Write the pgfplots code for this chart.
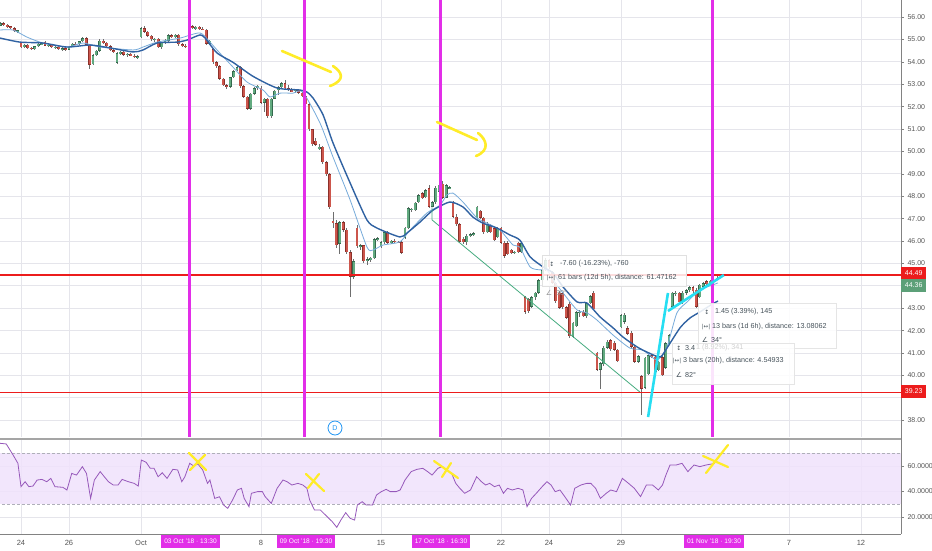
\documentclass[border=0pt]{standalone}
\usepackage{pgfplots}
\pgfplotsset{compat=1.18}
\usepackage{pgfplotstable}
\usepackage{fontspec}
\setmainfont{Liberation Sans}
\newfontfamily\symfont{DejaVu Sans}
\definecolor{gridc}{RGB}{229,229,235}
\definecolor{axc}{RGB}{130,130,130}
\definecolor{sepc}{RGB}{165,165,165}
\definecolor{lblc}{RGB}{85,85,85}
\definecolor{upf}{RGB}{98,170,128}
\definecolor{upb}{RGB}{52,106,78}
\definecolor{dnf}{RGB}{204,86,76}
\definecolor{dnb}{RGB}{140,48,42}
\definecolor{wickc}{RGB}{110,110,110}
\definecolor{maslow}{RGB}{48,98,162}
\definecolor{mafast}{RGB}{118,170,218}
\definecolor{magc}{RGB}{226,46,232}
\definecolor{redl}{RGB}{236,28,28}
\definecolor{greenlbl}{RGB}{92,160,120}
\definecolor{rsic}{RGB}{150,88,186}
\definecolor{bandc}{RGB}{240,226,252}
\definecolor{yel}{RGB}{255,236,40}
\definecolor{cyanl}{RGB}{38,222,242}
\definecolor{teall}{RGB}{70,172,128}
\definecolor{dblue}{RGB}{33,150,243}
\definecolor{anntxt}{RGB}{72,84,92}

\pgfplotstableread{
i o h l c
-6 55.62 55.78 55.58 55.72
-5 55.72 55.76 55.62 55.66
-4 55.66 55.70 55.52 55.58
-3 55.58 55.62 55.46 55.50
-2 55.50 55.54 55.32 55.36
-1 55.36 55.44 55.30 55.40
0 54.85 54.88 54.60 54.65
1 54.65 54.78 54.60 54.75
2 54.75 54.78 54.58 54.62
3 54.62 54.66 54.52 54.58
4 54.58 54.72 54.55 54.70
5 54.70 54.82 54.66 54.80
6 54.80 54.86 54.74 54.82
7 54.90 54.94 54.70 54.72
8 54.72 54.80 54.66 54.76
9 54.76 54.80 54.60 54.64
10 54.64 54.70 54.55 54.66
11 54.66 54.70 54.52 54.56
12 54.56 54.64 54.50 54.60
13 54.60 54.64 54.48 54.52
14 54.55 54.70 54.52 54.68
15 54.68 54.84 54.64 54.80
16 54.80 54.90 54.74 54.78
17 54.78 54.95 54.75 54.92
18 54.92 55.12 54.88 55.06
19 55.06 55.10 54.72 54.76
20 54.76 54.78 53.70 53.88
21 53.90 54.35 53.85 54.30
22 54.30 54.55 54.25 54.50
23 54.50 55.00 54.45 54.95
24 54.95 55.00 54.80 54.84
25 54.84 54.88 54.66 54.70
26 54.70 54.75 54.48 54.52
27 54.52 54.56 54.38 54.42
28 53.96 54.42 53.90 54.38
29 54.38 54.48 54.30 54.44
30 54.44 54.48 54.28 54.32
31 54.32 54.40 54.22 54.36
32 54.36 54.40 54.24 54.28
33 54.28 54.34 54.16 54.22
34 54.22 54.30 54.12 54.24
35 55.10 55.55 55.05 55.50
36 55.50 55.60 55.30 55.34
37 55.34 55.38 55.10 55.16
38 55.16 55.20 54.95 55.00
39 55.00 55.06 54.90 55.02
40 55.02 55.06 54.60 54.66
41 54.66 54.90 54.58 54.86
42 54.86 55.00 54.80 54.94
43 54.94 55.22 54.90 55.18
44 55.18 55.26 55.08 55.12
45 55.12 55.24 55.06 55.20
46 55.20 55.24 54.72 54.78
47 54.78 54.86 54.66 54.72
48 54.72 54.80 54.60 54.68
49 55.45 55.62 55.40 55.58
50 55.58 55.64 55.46 55.50
51 55.50 55.60 55.44 55.56
52 55.56 55.60 55.44 55.48
53 55.48 55.54 55.40 55.44
54 55.44 55.48 54.76 54.80
55 54.80 54.98 54.76 54.94
56 54.55 54.60 53.92 53.98
57 53.98 54.02 53.74 53.80
58 53.80 53.84 53.20 53.24
59 53.24 53.28 52.90 52.96
60 52.96 53.02 52.78 52.88
61 52.88 53.34 52.82 53.30
62 53.30 53.62 53.26 53.58
63 53.62 53.80 53.58 53.76
64 53.76 53.80 52.84 52.90
65 52.90 52.96 52.40 52.44
66 52.44 52.48 51.84 51.90
67 51.90 52.62 51.86 52.58
68 52.58 52.86 52.52 52.82
69 52.82 52.96 52.76 52.92
70 52.84 52.90 52.12 52.18
71 52.18 52.40 51.78 52.36
72 52.36 52.40 51.50 51.56
73 51.56 52.40 51.50 52.36
74 52.36 52.76 52.32 52.72
75 52.72 52.90 52.50 52.86
76 52.86 53.12 52.80 53.04
77 53.04 53.18 52.78 52.82
78 52.82 52.96 52.70 52.74
79 52.74 52.82 52.64 52.70
80 52.70 52.80 52.62 52.76
81 52.76 52.80 52.58 52.62
82 52.62 52.66 52.42 52.46
83 52.46 52.50 52.06 52.10
84 52.10 52.14 50.92 50.98
85 50.98 51.02 50.26 50.32
86 50.48 50.60 50.24 50.30
87 50.14 50.34 50.08 50.20
88 50.20 50.24 49.46 49.52
89 49.52 49.56 48.92 48.98
90 48.98 49.02 47.42 47.50
91 46.90 47.30 46.60 46.80
92 46.80 46.95 45.70 45.82
93 45.88 46.90 45.40 46.84
94 46.84 46.90 46.40 46.50
95 46.50 46.56 45.40 45.50
96 45.50 45.60 43.50 44.40
97 44.40 45.20 44.30 45.10
98 46.60 46.70 45.70 45.76
99 45.76 45.86 45.60 45.80
100 45.80 45.84 45.04 45.10
101 45.10 45.30 44.95 45.18
102 45.18 45.30 45.06 45.24
103 45.24 46.14 45.20 46.08
104 46.08 46.20 45.98 46.12
105 45.76 45.98 45.70 45.94
106 45.94 46.44 45.88 46.38
107 46.38 46.44 45.86 45.92
108 45.92 46.06 45.86 46.02
109 46.02 46.08 45.90 45.96
110 45.96 46.00 45.90 45.94
111 45.94 45.98 45.42 45.48
112 46.14 46.64 46.08 46.58
113 46.58 47.52 46.54 47.46
114 47.40 47.48 47.30 47.44
115 47.38 47.74 47.32 47.70
116 47.74 48.10 47.70 48.04
117 48.14 48.20 47.88 47.92
118 47.96 48.32 47.92 48.26
119 48.36 48.50 47.46 47.54
120 47.54 47.80 47.50 47.72
121 47.72 48.44 47.66 48.38
122 48.20 48.62 48.10 48.50
123 48.56 48.66 47.88 47.94
124 47.94 48.56 47.90 48.48
125 48.36 48.44 48.30 48.38
126 47.76 47.80 47.02 47.08
127 47.08 47.20 46.68 46.74
128 46.74 46.80 45.90 45.96
129 46.10 46.20 45.86 45.94
130 45.94 46.30 45.80 46.24
131 46.24 46.34 46.18 46.30
132 46.30 46.40 46.22 46.34
133 47.02 47.58 46.98 47.52
134 47.34 47.40 47.00 47.04
135 47.04 47.08 46.32 46.38
136 46.38 46.84 46.34 46.78
137 46.72 46.78 46.34 46.40
138 46.56 46.62 45.98 46.04
139 46.18 46.64 46.12 46.58
140 46.58 46.62 45.88 45.92
141 45.92 46.00 45.26 45.34
142 45.90 45.98 45.36 45.42
143 45.60 45.66 45.42 45.46
144 45.46 45.56 45.42 45.52
145 45.92 45.96 45.46 45.50
146 45.50 45.96 45.46 45.90
147 43.48 43.56 42.76 42.84
148 43.40 43.46 42.80 42.86
149 43.06 43.54 43.00 43.48
150 43.48 43.74 43.38 43.70
151 43.70 44.30 43.64 44.24
152 44.24 44.74 44.20 44.70
153 44.70 45.22 44.66 45.14
154 45.14 45.20 44.76 44.82
155 44.62 44.66 44.10 44.14
156 44.14 44.18 43.24 43.30
157 43.70 43.76 42.96 43.02
158 43.66 43.72 42.98 43.04
159 43.04 43.10 42.52 42.58
160 43.20 43.26 41.68 41.74
161 41.72 42.40 41.66 42.34
162 42.20 42.88 42.14 42.82
163 42.82 42.90 42.60 42.84
164 42.84 42.90 42.60 42.64
165 42.64 43.28 42.58 43.22
166 43.22 43.60 43.18 43.54
167 43.68 43.76 42.90 42.96
168 41.00 41.06 40.20 40.26
169 40.26 40.60 39.40 40.54
170 40.50 41.30 40.44 41.24
171 41.24 41.56 41.18 41.50
172 41.56 41.62 41.10 41.16
173 41.46 41.52 41.08 41.14
174 41.14 41.20 40.58 40.64
175 42.16 42.74 42.10 42.68
176 42.40 42.80 42.30 42.70
177 42.10 42.20 41.80 41.86
178 41.90 41.96 41.22 41.28
179 41.28 41.34 40.56 40.62
180 40.62 40.90 40.56 40.86
181 39.96 40.02 38.22 39.40
182 39.44 40.84 39.38 40.78
183 40.06 40.96 40.00 40.90
184 40.90 40.96 40.78 40.82
185 40.82 40.88 40.10 40.16
186 40.24 40.64 40.18 40.60
187 40.80 40.86 39.96 40.02
188 40.34 41.50 40.28 41.44
189 41.40 41.86 41.34 41.80
190 43.06 43.74 43.00 43.68
191 43.62 43.76 43.56 43.70
192 43.68 43.72 43.20 43.26
193 43.26 43.76 43.20 43.70
194 43.70 43.84 43.60 43.80
195 43.80 43.98 43.74 43.94
196 43.94 43.98 43.70 43.76
197 43.82 43.88 43.00 43.06
198 43.50 44.10 43.44 44.04
199 43.96 44.16 43.90 44.12
200 44.20 44.26 44.04 44.08
201 44.08 44.26 44.02 44.22
202 44.22 44.34 44.16 44.28
203 44.30 44.42 44.26 44.36
}\candles

\pgfplotstableread{
i p
-6.1 55.06
-0.3 54.88
6.4 54.84
13.4 54.66
20.1 54.75
26 54.62
32.7 54.44
35.6 54.53
39.7 54.84
45.5 54.88
48.4 54.97
52.2 55.20
53.7 55.06
57.2 54.39
61.8 53.98
67.7 53.35
74.7 52.83
81.4 52.74
83.4 52.65
85.2 52.38
88.1 51.63
91 50.38
96 48.59
100.9 46.94
103.8 46.58
110.5 46.18
112.6 46.36
116.4 46.85
120.2 47.38
125.1 47.74
128.9 47.52
131.8 47.07
134.7 46.80
138.8 46.58
142.6 46.27
145.5 46.04
148.5 45.29
152.3 44.84
155.2 44.57
158.1 43.95
162.2 43.28
165.1 43.23
168.9 42.61
172.7 42.12
175.6 41.71
179.7 41.27
182.6 41.04
186.4 40.82
188.4 41.22
192.2 42.12
195.1 42.56
198 42.83
201.8 43.20
203.3 43.32
}\maslowtab

\pgfplotstableread{
i p
-6.1 55.42
-2.3 55.42
1.8 55.10
6.4 54.84
13.4 54.66
18.1 54.84
23 54.66
32.7 54.53
35.6 54.66
39.7 54.88
46.4 55.06
52.2 55.29
55.1 54.88
58 54.39
61.8 53.77
65.9 53.10
70.6 52.74
72.6 52.43
75.5 52.60
79.3 52.60
82.2 52.65
87.2 51.27
91 49.75
96 47.83
100.9 45.73
102.7 45.60
105.6 45.82
110.5 45.96
113.5 46.49
118.4 47.25
122.2 47.60
124.2 48.05
126 48.14
128.9 47.74
133 47.03
135.9 46.80
139.7 46.49
143.5 45.82
145.5 45.73
148.5 44.84
151.4 44.71
153.4 44.71
155.2 44.26
158.1 43.68
162.2 42.92
165.1 42.79
168 42.47
172.7 41.80
177.6 41.22
181.4 41.13
185.5 40.69
188.4 41.27
191.3 42.79
194.3 43.28
198 43.81
201.8 44.04
203.3 44.13
}\mafasttab

\pgfplotstableread{
i r
-6.1 77.8
-4.3 77.3
-2.3 68.6
-0.9 62.1
0 43.8
1.2 47.7
2.3 43.8
3.5 44.3
4.7 49.0
6.1 49.5
7.5 47.7
8.7 50.3
9.9 43.8
12.2 43.3
13.4 41.2
14.8 54.2
16.2 52.9
17.9 59.5
19.1 54.2
20.3 34.6
21.4 49.0
23.1 55.6
24.3 51.6
25.5 47.7
26.9 45.1
28.3 45.1
29.5 49.5
31.3 47.7
33 46.4
34.2 44.3
35.1 64.7
36.5 62.9
37.7 58.2
38.8 58.2
40 51.6
41.2 54.7
42.6 50.3
44.3 57.4
45.7 56.9
46.9 47.7
47.8 51.6
49.2 62.1
50.4 60.0
51.6 61.6
53 56.9
54.4 46.4
55.1 49.0
56.5 34.6
57.9 35.9
59.1 29.4
60.3 26.8
61.7 33.3
63.1 41.2
64.3 42.5
65.1 34.6
66.5 28.1
67.2 38.6
69 39.9
70.4 39.9
71.2 36.0
73 30.7
74.7 42.5
76.4 49.0
77.6 47.7
79 45.1
80.8 46.4
82.2 45.1
83.4 42.5
84.2 33.3
85.6 25.5
87.3 25.5
89.1 20.8
90.8 16.3
92.1 11.9
93.3 17.6
94.7 23.4
96 19.0
97.3 17.6
98.1 29.4
99.5 32.0
100.7 29.4
102.5 29.4
103.7 37.3
105.1 39.9
106.5 41.7
107.7 39.9
109.4 39.9
110.6 41.2
112 49.0
113.8 55.6
115.5 57.4
117.2 58.2
118.6 55.6
119.9 52.9
121.6 58.2
122.8 59.5
124.2 56.9
125.6 54.2
126.8 46.4
128 42.5
129.4 38.6
131.1 41.2
132.9 51.6
134.3 47.7
135.5 45.1
136.7 46.4
138.1 43.8
139.5 45.1
140.7 38.6
141.9 42.5
143.3 41.2
145 42.5
146.4 41.2
147.6 28.1
148.9 34.6
150.3 38.6
152 43.8
153.4 47.7
154.6 45.1
155.8 39.9
157.2 41.2
158.6 36.0
160.3 29.4
161.5 42.5
163.3 45.1
165 46.4
166.2 46.4
167.6 42.5
169 34.6
170.7 38.6
172 41.2
173.7 39.9
175.4 50.3
177.2 46.4
178.9 42.5
180.7 36.0
182.4 45.1
184.2 45.1
185.9 41.2
187.1 45.1
188.1 52.9
189.3 60.8
191.1 60.8
192.8 62.1
194.5 55.6
196.3 60.8
198 59.5
199.8 60.8
201.5 61.6
202.4 62.1
}\rsitab

\begin{document}
\begin{tikzpicture}
\useasboundingbox (0pt,0pt) rectangle (932pt,-550pt);
\fill[white] (0pt,0pt) rectangle (932pt,-550pt);

% ---------------- main price pane ----------------
\begin{axis}[
  at={(0pt,0pt)}, anchor=north west,
  width=901pt, height=437pt, scale only axis,
  xmin=-6.125, xmax=256.67, ymin=37.25, ymax=56.76,
  axis line style={draw=none},
  xtick={0,14,35,70,105,140,154,175,224,245}, xticklabels={},
  xtick style={draw=none},
  xmajorgrids, ymajorgrids, grid style={gridc, line width=0.8pt},
  ytick={38,40,41,42,43,45,46,47,48,49,50,51,52,53,54,55,56}, ytick pos=right, yticklabel pos=right,
  extra y ticks={39,44}, extra y tick labels={},
  extra y tick style={grid=major, tick style={draw=none}},
  ytick style={axc, line width=0.6pt}, major tick length=3pt, tick align=outside,
  yticklabel style={font=\fontsize{7}{8}\selectfont, text=lblc,
    /pgf/number format/.cd, fixed, fixed zerofill, precision=2, assume math mode=true},
]
% wicks
\addplot[draw=none, mark=none, forget plot, error bars/.cd, y dir=both, y explicit,
  error mark=none, error bar style={wickc, line width=0.75pt}]
  table[x=i, y expr={(\thisrow{h}+\thisrow{l})/2}, y error expr={(\thisrow{h}-\thisrow{l})/2}] {\candles};
% up bodies
\addplot[draw=none, mark=none, forget plot, error bars/.cd, y dir=both, y explicit,
  error mark=none, error bar style={upb, line width=2.9pt}]
  table[x=i, y expr={(\thisrow{c}<\thisrow{o}) ? 0 : (\thisrow{o}+\thisrow{c})/2},
        y error expr={max(abs(\thisrow{c}-\thisrow{o})/2,0.02)}] {\candles};
\addplot[draw=none, mark=none, forget plot, error bars/.cd, y dir=both, y explicit,
  error mark=none, error bar style={upf, line width=1.9pt}]
  table[x=i, y expr={(\thisrow{c}<\thisrow{o}) ? 0 : (\thisrow{o}+\thisrow{c})/2},
        y error expr={max(abs(\thisrow{c}-\thisrow{o})/2-0.02,0.005)}] {\candles};
% down bodies
\addplot[draw=none, mark=none, forget plot, error bars/.cd, y dir=both, y explicit,
  error mark=none, error bar style={dnb, line width=2.9pt}]
  table[x=i, y expr={(\thisrow{c}<\thisrow{o}) ? (\thisrow{o}+\thisrow{c})/2 : 0},
        y error expr={max(abs(\thisrow{c}-\thisrow{o})/2,0.02)}] {\candles};
\addplot[draw=none, mark=none, forget plot, error bars/.cd, y dir=both, y explicit,
  error mark=none, error bar style={dnf, line width=1.9pt}]
  table[x=i, y expr={(\thisrow{c}<\thisrow{o}) ? (\thisrow{o}+\thisrow{c})/2 : 0},
        y error expr={max(abs(\thisrow{c}-\thisrow{o})/2-0.02,0.005)}] {\candles};
% moving averages
\addplot[mafast, line width=0.8pt, smooth, tension=0.4, mark=none] table[x=i, y=p] {\mafasttab};
\addplot[maslow, line width=1.4pt, smooth, tension=0.4, mark=none] table[x=i, y=p] {\maslowtab};
% drawings
\addplot[teall, line width=0.8pt, mark=none] coordinates {(119.9,47.5) (119.9,46.94) (180.5,39.26)};
\addplot[redl, line width=1.5pt, mark=none] coordinates {(-7,44.49) (257,44.49)};
\addplot[redl, line width=1.5pt, mark=none] coordinates {(-7,39.23) (257,39.23)};
\addplot[magc, line width=3pt, mark=none] coordinates {(49.29,37) (49.29,57)};
\addplot[magc, line width=3pt, mark=none] coordinates {(82.83,37) (82.83,57)};
\addplot[magc, line width=3pt, mark=none] coordinates {(122.21,37) (122.21,57)};
\addplot[magc, line width=3pt, mark=none] coordinates {(201.83,37) (201.83,57)};
\addplot[cyanl, line width=2.6pt, mark=none] coordinates {(182.9,38.14) (188.7,43.68)};
\addplot[cyanl, line width=2.6pt, mark=none] coordinates {(188.7,42.875) (205.0,44.48)};
\end{axis}

% ---------------- RSI pane ----------------
\begin{axis}[
  at={(0pt,-439pt)}, anchor=north west,
  width=901pt, height=95pt, scale only axis,
  xmin=-6.125, xmax=256.67, ymin=6.67, ymax=81.18,
  axis line style={draw=none},
  xtick={0,14,35,70,105,140,154,175,224,245},
  xticklabels={24,26,Oct,8,15,22,24,29,7,12},
  xticklabel style={font=\fontsize{7.5}{8}\selectfont, text=lblc},
  xtick style={draw=none},
  xmajorgrids, ymajorgrids, grid style={gridc, line width=0.8pt},
  ytick={20,40,60}, ytick pos=right, yticklabel pos=right,
  ytick style={axc, line width=0.6pt}, major tick length=3pt, tick align=outside,
  yticklabel style={font=\fontsize{7}{8}\selectfont, text=lblc,
    /pgf/number format/.cd, fixed, fixed zerofill, precision=4, assume math mode=true},
]
\addplot[draw=none, fill=bandc, fill opacity=0.85, mark=none, forget plot]
  coordinates {(-7,30) (257,30) (257,70) (-7,70)} -- cycle;
\addplot[densely dashed, color={rgb,255:red,175;green,175;blue,185}, line width=0.6pt, mark=none]
  coordinates {(-7,70) (257,70)};
\addplot[densely dashed, color={rgb,255:red,175;green,175;blue,185}, line width=0.6pt, mark=none]
  coordinates {(-7,30) (257,30)};
\addplot[rsic, line width=0.8pt, mark=none] table[x=i, y=r] {\rsitab};
\end{axis}

% ---------------- overlays in pixel coordinates ----------------
\begin{scope}[x=1pt, y=-1pt]
\draw[sepc, line width=2pt] (0,438.5) -- (901,438.5);
\draw[axc, line width=0.8pt] (901,0) -- (901,534);
\draw[axc, line width=0.8pt] (0,534) -- (901,534);

% price labels on the axis
\node[fill=redl, text=white, font=\fontsize{7}{8}\selectfont, anchor=west,
  minimum width=25pt, minimum height=12.5pt, inner sep=0pt] at (901,273) {44.49};
\node[fill=greenlbl, text=white, font=\fontsize{7}{8}\selectfont, anchor=west,
  minimum width=25pt, minimum height=12.5pt, inner sep=0pt] at (901,285.5) {44.36};
\node[fill=redl, text=white, font=\fontsize{7}{8}\selectfont, anchor=west,
  minimum width=25pt, minimum height=13pt, inner sep=0pt] at (901,391) {39.23};

% date boxes
\foreach \xx/\tt in {190.5/{03 Oct '18 · 13:30}, 306/{09 Oct '18 · 19:30}, 441/{17 Oct '18 · 16:30}, 714/{01 Nov '18 · 19:30}}{
  \node[fill=magc, text=white, font=\fontsize{6.6}{7}\selectfont, inner xsep=3pt,
    minimum height=13pt, inner ysep=0pt] at (\xx,541.5) {\tt};
}

% dividend marker
\draw[dblue, line width=0.8pt, fill=white] (335,428) circle (7pt);
\node[dblue, font=\fontsize{7}{8}\selectfont] at (335,428) {D};

% yellow arrows
\begin{scope}[yel, line width=2.6pt, line cap=round, line join=round]
\draw (282,51) -- (331,72);
\draw (333,66) .. controls (342,72) and (346,80) .. (330,86);
\draw (437,122) -- (477,140);
\draw (478,133) .. controls (486,139) and (491,150) .. (476,156);
% yellow crosses in RSI pane
\draw[line width=2.2pt] (189,453) -- (206,470);
\draw[line width=2.2pt] (190,470) -- (205,455);
\draw[line width=2.2pt] (306,474) -- (324,491);
\draw[line width=2.2pt] (308,488) -- (319,474);
\draw[line width=2.2pt] (434,461) -- (458,478);
\draw[line width=2.2pt] (442,477) -- (451,463);
\draw[line width=2.2pt] (706,473) -- (728,445);
\draw[line width=2.2pt] (703,456) -- (728,467);
\end{scope}

% measurement boxes
\fill[white, fill opacity=0.85] (542,255) rectangle (686,286);
\draw[black!12, line width=0.5pt] (542,255) rectangle (686,286);
\node[anntxt, anchor=center, font=\symfont\fontsize{6}{7}\selectfont] at (552,264) {↕};
\node[anntxt, anchor=west, inner sep=0pt, font=\fontsize{7.2}{8}\selectfont] at (560,264) {-7.60 (-16.23\%), -760};
\node[anntxt, anchor=center, font=\symfont\fontsize{5.5}{7}\selectfont] at (551,278) {|↔|};
\node[anntxt, anchor=west, inner sep=0pt, font=\fontsize{7.2}{8}\selectfont] at (558,278) {61 bars (12d 5h), distance: 61.47162};
\node[black!40, anchor=center, font=\symfont\fontsize{7}{8}\selectfont] at (549,293) {∠};
\node[black!40, anchor=west, inner sep=0pt, font=\fontsize{7.2}{8}\selectfont] at (556,293) {30°};

\fill[white, fill opacity=0.88] (698,303) rectangle (836,348);
\draw[black!10, line width=0.5pt] (698,303) rectangle (836,348);
\node[anntxt, anchor=center, font=\symfont\fontsize{6}{7}\selectfont] at (707,312) {↕};
\node[anntxt, anchor=west, inner sep=0pt, font=\fontsize{7.2}{8}\selectfont] at (715,312) {1.45 (3.39\%), 145};
\node[anntxt, anchor=center, font=\symfont\fontsize{5.5}{7}\selectfont] at (706,327) {|↔|};
\node[anntxt, anchor=west, inner sep=0pt, font=\fontsize{7.2}{8}\selectfont] at (712,327) {13 bars (1d 6h), distance: 13.08062};
\node[anntxt, anchor=center, font=\symfont\fontsize{7}{8}\selectfont] at (705,340) {∠};
\node[anntxt, anchor=west, inner sep=0pt, font=\fontsize{7.2}{8}\selectfont] at (711,340) {34°};

\fill[white, fill opacity=0.88] (672,343) rectangle (794,384);
\draw[black!10, line width=0.5pt] (672,343) rectangle (794,384);
\node[anntxt, anchor=center, font=\symfont\fontsize{6}{7}\selectfont] at (679,348) {↕};
\node[anntxt, anchor=west, inner sep=0pt, font=\fontsize{7.2}{8}\selectfont] at (685,348) {3.4};
\node[black!18, anchor=west, inner sep=0pt, font=\fontsize{7.2}{8}\selectfont] at (696,348) {1 (8.92\%), 341};
\node[anntxt, anchor=center, font=\symfont\fontsize{5.5}{7}\selectfont] at (677,361) {|↔|};
\node[anntxt, anchor=west, inner sep=0pt, font=\fontsize{7.2}{8}\selectfont] at (683,361) {3 bars (20h), distance: 4.54933};
\node[anntxt, anchor=center, font=\symfont\fontsize{7}{8}\selectfont] at (679,375) {∠};
\node[anntxt, anchor=west, inner sep=0pt, font=\fontsize{7.2}{8}\selectfont] at (685,375) {82°};
\end{scope}
\end{tikzpicture}
\end{document}
